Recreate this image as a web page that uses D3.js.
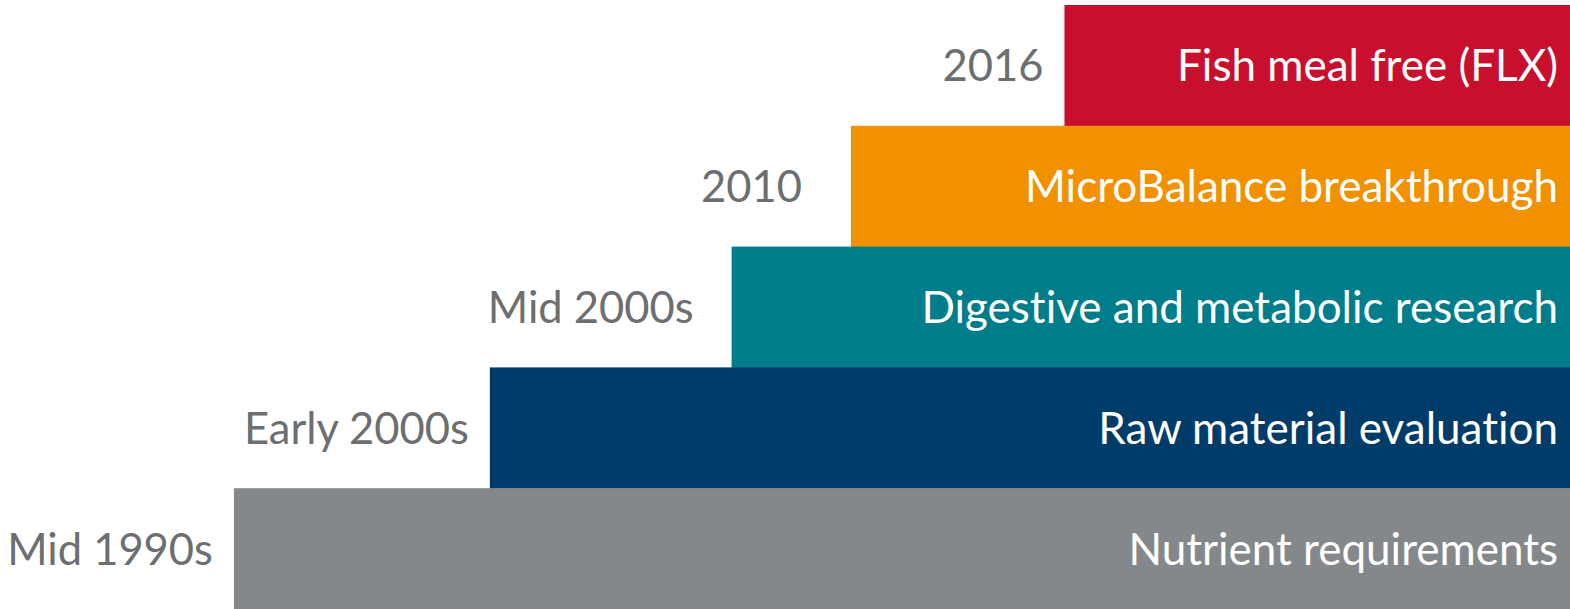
<!DOCTYPE html>
<html>
<head>
<meta charset="utf-8">
<script src="https://cdn.jsdelivr.net/npm/d3@7"></script>
<style>
  html, body { margin: 0; padding: 0; background: #fff; }
  svg { display: block; }
  text { font-variant-ligatures: none; font-feature-settings: "liga" 0, "clig" 0; }
</style>
</head>
<body>
<svg id="chart" width="1570" height="609"></svg>
<script>
// ---- data ----
const categories = ["Fish meal free (FLX)", "MicroBalance breakthrough", "Digestive and metabolic research", "Raw material evaluation", "Nutrient requirements"];
const periods = ["2016", "2010", "Mid 2000s", "Early 2000s", "Mid 1990s"];
const startValues = [67.8, 54.2, 46.6, 31.2, 14.9]; // bar start on a 0-100 scale (bars run to 100)
const colors = ["#C8102E", "#F29100", "#007D8A", "#003C69", "#85888B"];

// layout: gap (px) between period label and its bar
const labelGaps = [21, 49, 38, 21, 21];

const W = 1570, H = 609;
const svg = d3.select("#chart");

const x = d3.scaleLinear().domain([0, 100]).range([0, W]);
const y = d3.scaleBand().domain(categories).range([5, H]).paddingInner(0).paddingOuter(0);

const data = categories.map((c, i) => ({ cat: c, period: periods[i], start: startValues[i], color: colors[i], gap: labelGaps[i] }));

const font = "Lato, 'Open Sans', sans-serif";

svg.selectAll("rect.bar").data(data).join("rect")
  .attr("class", "bar")
  .attr("x", d => x(d.start))
  .attr("y", d => y(d.cat))
  .attr("width", d => x(100) - x(d.start))
  .attr("height", y.bandwidth() + 0.5)
  .attr("fill", d => d.color);

svg.selectAll("text.cat").data(data).join("text")
  .attr("class", "cat")
  .attr("x", x(100) - 12)
  .attr("y", d => y(d.cat) + y.bandwidth() / 2 + 16)
  .attr("text-anchor", "end")
  .attr("font-family", font)
  .attr("font-size", 44)
  .attr("fill", "#ffffff")
  .text(d => d.cat);

svg.selectAll("text.period").data(data).join("text")
  .attr("class", "period")
  .attr("x", d => x(d.start) - d.gap)
  .attr("y", d => y(d.cat) + y.bandwidth() / 2 + 16)
  .attr("text-anchor", "end")
  .attr("font-family", font)
  .attr("font-size", 43.5)
  .attr("fill", "#6D6E70")
  .text(d => d.period);
</script>
</body>
</html>
